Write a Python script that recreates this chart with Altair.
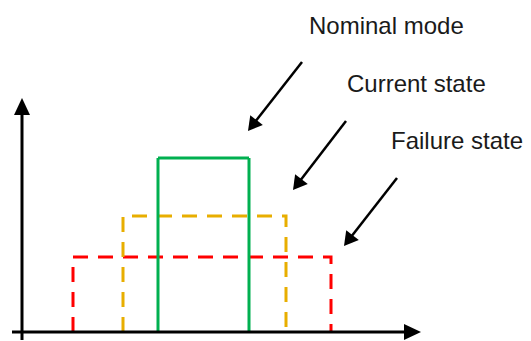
import math
import altair as alt
import pandas as pd

# ---- data (units: x from y-axis origin, y from x-axis origin) ----
series = ["Failure state", "Current state", "Nominal mode"]
starts = [51, 101, 136]
ends = [309, 264, 227]
levels = [75, 116, 174]
colors = ["#FF0000", "#E8AE00", "#00B050"]
dashes = [[15, 10], [15, 10], [1, 0]]

label_x = [369, 325, 287]
label_y = [183.5, 240.5, 298]
arrow_from_x = [375, 324, 280]
arrow_from_y = [154, 211, 270]
arrow_to_x = [322, 271, 226]
arrow_to_y = [86, 142, 201]

# axis extents (tips of the arrows)
axis_x_start, axis_x_tip = -10, 399
axis_y_start, axis_y_tip = -8, 234

rows = []
for s, a, b, h in zip(series, starts, ends, levels):
    for i, (x, y) in enumerate([(a, 0), (a, h), (b, h), (b, 0)]):
        rows.append({"series": s, "order": i, "x": x, "y": y})
pulses = pd.DataFrame(rows)

head_size = 256
r = math.sqrt(head_size) / 2
hh = math.sqrt(3) * r / 2


def rot(dx, dy):
    sx, sy = dx, -dy  # screen direction
    return math.degrees(math.atan2(sx, -sy)) % 360


arows = []
for s, fx, fy, tx, ty, lx, ly in zip(series, arrow_from_x, arrow_from_y, arrow_to_x, arrow_to_y, label_x, label_y):
    dx, dy = tx - fx, ty - fy
    L = math.hypot(dx, dy)
    ux, uy = dx / L, dy / L
    arows.append({"label": s, "fx": fx, "fy": fy,
                  "cx": tx - ux * hh, "cy": ty - uy * hh,
                  "ang": rot(dx, dy), "lx": lx, "ly": ly})
arrows = pd.DataFrame(arows)

xs = alt.Scale(domain=[-14, 501], nice=False, zero=False)
ys = alt.Scale(domain=[-9, 324], nice=False, zero=False)

pulse_layer = alt.Chart(pulses).mark_line(strokeWidth=3, strokeJoin="miter", strokeCap="butt").encode(
    x=alt.X("x:Q", scale=xs, axis=None),
    y=alt.Y("y:Q", scale=ys, axis=None),
    order="order:Q",
    color=alt.Color("series:N", scale=alt.Scale(domain=series, range=colors), legend=None),
    strokeDash=alt.StrokeDash("series:N", scale=alt.Scale(domain=series, range=dashes), legend=None),
)

axis_head_path = "M0,-1 L0.94,1 L-0.94,1 Z"
axis_head_size = 289
ah = math.sqrt(axis_head_size) / 2

axes_df = pd.DataFrame({
    "x": [axis_x_start, 0], "x2": [axis_x_tip - ah, 0],
    "y": [0, axis_y_start], "y2": [0, axis_y_tip - ah],
})
axis_rules = alt.Chart(axes_df).mark_rule(strokeWidth=3, color="black").encode(
    x=alt.X("x:Q", scale=xs, axis=None), x2="x2:Q",
    y=alt.Y("y:Q", scale=ys, axis=None), y2="y2:Q",
)
heads_df = pd.DataFrame({
    "x": [axis_x_tip - ah, 0], "y": [0, axis_y_tip - ah],
    "ang": [90, 0],
})
axis_heads = alt.Chart(heads_df).mark_point(shape=axis_head_path, filled=True, size=axis_head_size,
                                            color="black", opacity=1).encode(
    x=alt.X("x:Q", scale=xs, axis=None),
    y=alt.Y("y:Q", scale=ys, axis=None),
    angle=alt.Angle("ang:Q", scale=None),
)

arrow_shafts = alt.Chart(arrows).mark_rule(strokeWidth=2.5, color="black").encode(
    x=alt.X("fx:Q", scale=xs, axis=None), x2="cx:Q",
    y=alt.Y("fy:Q", scale=ys, axis=None), y2="cy:Q",
)
arrow_heads = alt.Chart(arrows).mark_point(shape="triangle-up", filled=True, size=head_size,
                                           color="black", opacity=1).encode(
    x=alt.X("cx:Q", scale=xs, axis=None),
    y=alt.Y("cy:Q", scale=ys, axis=None),
    angle=alt.Angle("ang:Q", scale=None),
)
labels = alt.Chart(arrows).mark_text(align="left", baseline="alphabetic", fontSize=24,
                                     font="Liberation Sans", color="#1a1a1a").encode(
    x=alt.X("lx:Q", scale=xs, axis=None),
    y=alt.Y("ly:Q", scale=ys, axis=None),
    text="label:N",
)

chart = alt.layer(pulse_layer, axis_rules, axis_heads, arrow_shafts, arrow_heads, labels).properties(
    width=515, height=333, padding=0, autosize=alt.AutoSizeParams(type="none"),
).configure_view(stroke=None)

chart.save("out.html", embed_options={"renderer": "svg", "actions": False})
